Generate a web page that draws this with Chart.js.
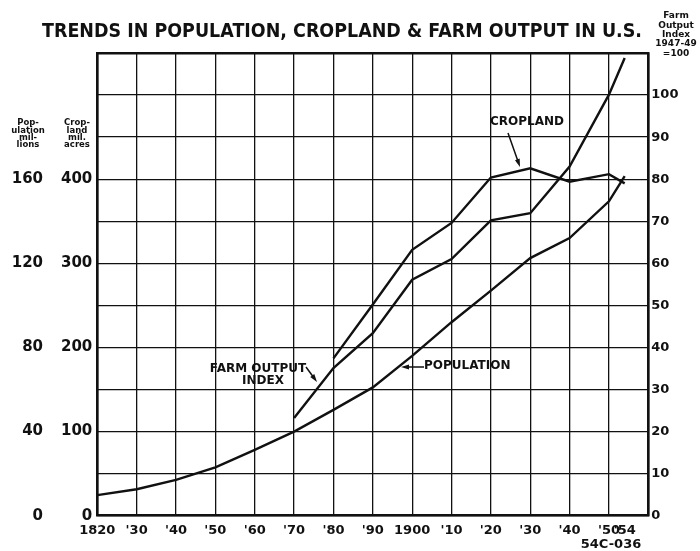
<!DOCTYPE html>
<html>
<head>
<meta charset="utf-8">
<script src="https://cdn.jsdelivr.net/npm/chart.js@4"></script>
<style>
body{margin:0;background:#fff}
#wrap{width:700px;height:551px;position:relative}
</style>
</head>
<body>
<div id="wrap"><canvas id="grafico"></canvas></div>
<script>
// datos
const years = [1820,1830,1840,1850,1860,1870,1880,1890,1900,1910,1920,1930,1940,1950,1954];
const population = [9.8,12.6,17,23,31.3,40,50.3,61,76,92,107,122.5,132,149.5,161.5];
const cropYears = [1880,1890,1900,1910,1920,1930,1940,1950,1954];
const cropland = [187,251,316,348,402,413,397,406,395];
const farmYears = [1870,1880,1890,1900,1910,1920,1930,1940,1950,1954];
const farmOutput = [23.2,35.1,43.4,56.1,61,70.2,71.9,83,100.1,108.8];

const xTicks = [1820,1830,1840,1850,1860,1870,1880,1890,1900,1910,1920,1930,1940,1950,1954,1960];
const xLabels = ["1820","'30","'40","'50","'60","'70","'80","'90","1900","'10","'20","'30","'40","'50","'54",""];
const popTicks = [0,40,80,120,160];
const cropTicks = [0,100,200,300,400];
const farmTicks = [0,10,20,30,40,50,60,70,80,90,100,110];

const fuente = "'DejaVu Sans', sans-serif";
const negro = '#111';

const puntos = (xs, ys) => xs.map((x, i) => ({x: x, y: ys[i]}));

function flecha(ctx, x1, y1, x2, y2) {
    const ang = Math.atan2(y2 - y1, x2 - x1);
    ctx.beginPath();
    ctx.moveTo(x1, y1);
    ctx.lineTo(x2 - 5 * Math.cos(ang), y2 - 5 * Math.sin(ang));
    ctx.stroke();
    ctx.beginPath();
    ctx.moveTo(x2, y2);
    ctx.lineTo(x2 - 8 * Math.cos(ang) + 2.5 * Math.sin(ang), y2 - 8 * Math.sin(ang) - 2.5 * Math.cos(ang));
    ctx.lineTo(x2 - 8 * Math.cos(ang) - 2.5 * Math.sin(ang), y2 - 8 * Math.sin(ang) + 2.5 * Math.cos(ang));
    ctx.closePath();
    ctx.fill();
}

function lineas(ctx, arr, x, y0, dy) {
    arr.forEach((t, i) => ctx.fillText(t, x, y0 + i * dy));
}

const textos = {
    id: 'textos',
    afterDraw(chart) {
        const ctx = chart.ctx;
        ctx.save();
        ctx.fillStyle = negro;
        ctx.strokeStyle = negro;
        ctx.textBaseline = 'alphabetic';

        // titulo
        const titulo = 'TRENDS IN POPULATION, CROPLAND & FARM OUTPUT IN U.S.';
        ctx.font = 'bold 19px ' + fuente;
        const w = ctx.measureText(titulo).width;
        ctx.save();
        ctx.translate(42, 37);
        ctx.scale(600 / w, 1);
        ctx.fillText(titulo, 0, 0);
        ctx.restore();

        // encabezados de ejes
        ctx.textAlign = 'center';
        ctx.textBaseline = 'middle';
        ctx.font = 'bold 8.5px ' + fuente;
        lineas(ctx, ['Pop-', 'ulation', 'mil-', 'lions'], 28, 123, 7.4);
        lineas(ctx, ['Crop-', 'land', 'mil.', 'acres'], 77, 123, 7.4);
        ctx.font = 'bold 9px ' + fuente;
        lineas(ctx, ['Farm', 'Output', 'Index', '1947-49', '=100'], 676, 16, 9.3);

        // anotaciones
        ctx.font = 'bold 12px ' + fuente;
        ctx.fillText('CROPLAND', 527, 122);
        ctx.fillText('FARM OUTPUT', 258, 369);
        ctx.fillText('INDEX', 263, 381);
        ctx.textAlign = 'left';
        ctx.fillText('POPULATION', 424, 366);
        ctx.lineWidth = 1.5;
        flecha(ctx, 508, 133, 520, 167);
        flecha(ctx, 306, 367, 317, 382);
        flecha(ctx, 424, 367, 401, 367);

        ctx.textAlign = 'center';
        ctx.font = 'bold 13px ' + fuente;
        ctx.fillText('54C-036', 611, 545);
        ctx.restore();
    }
};

const config = {
    type: 'line',
    data: {
        datasets: [
            {label: 'Population', data: puntos(years, population), yAxisID: 'yPop'},
            {label: 'Cropland', data: puntos(cropYears, cropland), yAxisID: 'yCrop'},
            {label: 'Farm output index', data: puntos(farmYears, farmOutput), yAxisID: 'yFarm'}
        ].map(d => Object.assign(d, {
            borderColor: negro, borderWidth: 2.4, pointRadius: 0, tension: 0, fill: false
        }))
    },
    options: {
        responsive: true,
        maintainAspectRatio: false,
        animation: false,
        layout: {padding: {top: 53, left: 0, right: 0, bottom: 0}},
        plugins: {legend: {display: false}, tooltip: {enabled: false}, title: {display: false}},
        scales: {
            x: {
                type: 'linear', min: 1820, max: 1960,
                afterBuildTicks: s => { s.ticks = xTicks.map(v => ({value: v})); },
                afterFit: s => { s.height = 35.3; },
                ticks: {
                    autoSkip: false, maxRotation: 0, padding: 7, color: negro,
                    font: {family: fuente, size: 13, weight: 'bold'},
                    callback: (v, i) => xLabels[i]
                },
                grid: {
                    drawTicks: false, lineWidth: 1.3,
                    color: c => (c.tick && c.tick.value === 1954) ? 'rgba(0,0,0,0)' : negro
                },
                border: {display: true, color: negro, width: 2.5}
            },
            yFarm: {
                position: 'right', min: 0, max: 110,
                afterBuildTicks: s => { s.ticks = farmTicks.map(v => ({value: v})); },
                afterFit: s => { s.width = 51.7; },
                ticks: {
                    padding: 3, color: negro,
                    font: {family: fuente, size: 13, weight: 'bold'},
                    callback: v => v === 110 ? '' : String(v)
                },
                grid: {
                    drawTicks: false, color: negro,
                    lineWidth: c => (c.tick && c.tick.value === 110) ? 2.5 : 1.3
                },
                border: {display: true, color: negro, width: 2.5}
            },
            yCrop: {
                position: 'left', min: 0, max: 550, weight: 0,
                afterBuildTicks: s => { s.ticks = cropTicks.map(v => ({value: v})); },
                afterFit: s => { s.width = 47.3; },
                ticks: {padding: 5, color: negro, font: {family: fuente, size: 15, weight: 'bold'}},
                grid: {display: false, drawTicks: false},
                border: {display: true, color: negro, width: 2.5}
            },
            yPop: {
                position: 'left', min: 0, max: 220, weight: 1,
                afterBuildTicks: s => { s.ticks = popTicks.map(v => ({value: v})); },
                afterFit: s => { s.width = 50; },
                ticks: {padding: 7, color: negro, font: {family: fuente, size: 15, weight: 'bold'}},
                grid: {display: false, drawTicks: false},
                border: {display: false}
            }
        }
    },
    plugins: [textos]
};

new Chart(document.querySelector('#grafico'), config);
</script>
</body>
</html>
